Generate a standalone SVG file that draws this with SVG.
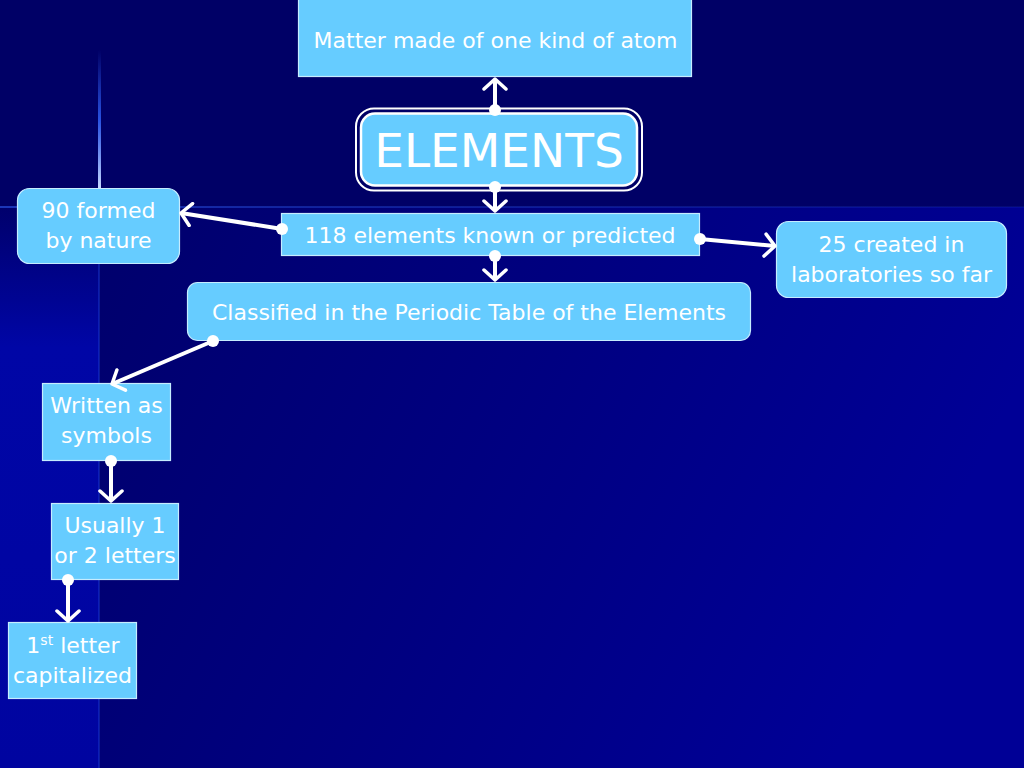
<svg xmlns="http://www.w3.org/2000/svg" width="1024" height="768" viewBox="0 0 1024 768">
<defs>
  <linearGradient id="lowGrad" x1="0" y1="0" x2="1" y2="0.3">
    <stop offset="0" stop-color="#00006c"/>
    <stop offset="0.5" stop-color="#000080"/>
    <stop offset="1" stop-color="#000096"/>
  </linearGradient>
  <linearGradient id="stripGrad" x1="0" y1="0" x2="0" y2="1">
    <stop offset="0" stop-color="#00006c"/>
    <stop offset="0.25" stop-color="#0006a6"/>
    <stop offset="1" stop-color="#0004a0"/>
  </linearGradient>
  <linearGradient id="vGlow" x1="0" y1="0" x2="0" y2="1">
    <stop offset="0" stop-color="#3366ff" stop-opacity="0"/>
    <stop offset="0.5" stop-color="#3366ff" stop-opacity="0.8"/>
    <stop offset="1" stop-color="#ccddff" stop-opacity="1"/>
  </linearGradient>
  <linearGradient id="hGlow" x1="0" y1="0" x2="1" y2="0">
    <stop offset="0" stop-color="#2244cc" stop-opacity="0.8"/>
    <stop offset="0.3" stop-color="#2244cc" stop-opacity="0.5"/>
    <stop offset="1" stop-color="#2244cc" stop-opacity="0.15"/>
  </linearGradient>
  <marker id="arrow" viewBox="-2 -2 14 26" refX="10" refY="11" markerWidth="14" markerHeight="26" markerUnits="userSpaceOnUse" orient="auto">
    <path d="M0,0 L10,11 L0,22" fill="none" stroke="#ffffff" stroke-width="3.5" stroke-linecap="round" stroke-linejoin="round"/>
  </marker>
  <marker id="dot" viewBox="-7 -7 14 14" refX="0" refY="0" markerWidth="14" markerHeight="14" markerUnits="userSpaceOnUse">
    <circle cx="0" cy="0" r="6" fill="#ffffff"/>
  </marker>
</defs>
<style>
  .box { fill: #66ccff; stroke: #c6ecff; stroke-width: 1.2; }
  .t { font-family: "DejaVu Sans", Verdana, sans-serif; font-size: 22px; fill: #ffffff; text-anchor: middle; }
  .big { font-family: "DejaVu Sans", Verdana, sans-serif; font-size: 47px; fill: #ffffff; text-anchor: middle; }
  .conn { stroke: #ffffff; stroke-width: 4; fill: none; marker-start: url(#dot); marker-end: url(#arrow); }
</style>

<!-- background -->
<rect x="0" y="0" width="1024" height="768" fill="#000066"/>
<rect x="99" y="207" width="925" height="561" fill="url(#lowGrad)"/>
<rect x="0" y="207" width="99" height="561" fill="url(#stripGrad)"/>
<rect x="98" y="50" width="3" height="140" fill="url(#vGlow)"/>
<rect x="98" y="262" width="2" height="506" fill="#1a3cd0" opacity="0.45"/>
<rect x="0" y="206" width="1024" height="2" fill="url(#hGlow)"/>

<g id="node-matter">
  <rect class="box" x="298.5" y="-1" width="393" height="77.5"/>
  <text class="t" x="495.5" y="48">Matter made of one kind of atom</text>
</g>

<g id="node-elements">
  <rect x="356" y="108.5" width="286" height="82" rx="18" fill="none" stroke="#ffffff" stroke-width="2"/>
  <rect x="361" y="113.5" width="276" height="72" rx="14" fill="#66ccff" stroke="#ffffff" stroke-width="2.5"/>
  <text class="big" x="499" y="167">ELEMENTS</text>
</g>

<g id="node-118">
  <rect class="box" x="281.5" y="213.5" width="418" height="42"/>
  <text class="t" x="490" y="243">118 elements known or predicted</text>
</g>

<g id="node-90">
  <rect class="box" x="17.5" y="188.5" width="162" height="75" rx="12"/>
  <text class="t" x="98.5" y="218">90 formed</text>
  <text class="t" x="98.5" y="248">by nature</text>
</g>

<g id="node-25">
  <rect class="box" x="776.5" y="221.5" width="230" height="76" rx="12"/>
  <text class="t" x="891.5" y="252">25 created in</text>
  <text class="t" x="891.5" y="282">laboratories so far</text>
</g>

<g id="node-classified">
  <rect class="box" x="187.5" y="282.5" width="563" height="58" rx="10"/>
  <text class="t" x="469" y="320">Classified in the Periodic Table of the Elements</text>
</g>

<g id="node-written">
  <rect class="box" x="42.5" y="383.5" width="128" height="77"/>
  <text class="t" x="106.5" y="413">Written as</text>
  <text class="t" x="106.5" y="443">symbols</text>
</g>

<g id="node-usually">
  <rect class="box" x="51.5" y="503.5" width="127" height="76"/>
  <text class="t" x="115" y="533">Usually 1</text>
  <text class="t" x="115" y="563">or 2 letters</text>
</g>

<g id="node-first">
  <rect class="box" x="8.5" y="622.5" width="128" height="76"/>
  <text class="t" x="73" y="653">1<tspan font-size="14" dy="-8">st</tspan><tspan dy="8"> letter</tspan></text>
  <text class="t" x="72.5" y="683">capitalized</text>
</g>

<!-- connectors -->
<g id="connectors">
  <line class="conn" x1="495" y1="110" x2="495" y2="79"/>
  <line class="conn" x1="495" y1="187" x2="495" y2="211"/>
  <line class="conn" x1="282" y1="229" x2="181" y2="213"/>
  <line class="conn" x1="700" y1="239" x2="775" y2="246"/>
  <line class="conn" x1="495" y1="256" x2="495" y2="280"/>
  <line class="conn" x1="213" y1="341" x2="112" y2="384"/>
  <line class="conn" x1="111" y1="461" x2="111" y2="501"/>
  <line class="conn" x1="68" y1="580" x2="68" y2="621"/>
</g>
</svg>
